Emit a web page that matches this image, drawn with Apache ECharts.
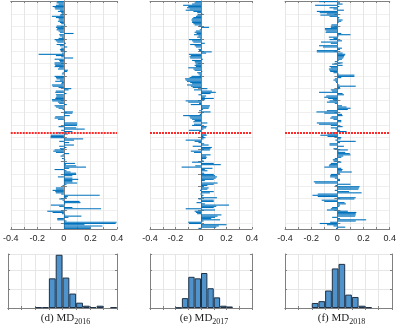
<!DOCTYPE html>
<html>
<head>
<meta charset="utf-8">
<script src="https://cdn.jsdelivr.net/npm/echarts@6/dist/echarts.min.js"></script>
<style>
  html, body { margin: 0; padding: 0; background: #fff; }
  #chart { width: 399px; height: 325px; }
</style>
</head>
<body>
<div id="chart"></div>
<script>
// per-row deviations, top row first (186 rows)
const md2016 = [
  -0.05,-0.055,-0.04,-0.06,-0.085,-0.07,-0.065,-0.03,-0.045,-0.02,-0.015,
  -0.03,-0.09,-0.06,-0.04,-0.035,-0.045,-0.03,-0.02,0.01,-0.055,
  -0.06,-0.05,-0.055,-0.04,-0.03,0.073,-0.035,-0.03,-0.015,-0.04,
  -0.07,-0.06,-0.05,0.015,-0.055,-0.03,0.025,-0.02,-0.03,-0.025,
  0.01,-0.015,-0.19,-0.06,-0.02,0.07,-0.07,-0.035,-0.03,-0.07,
  -0.07,-0.065,-0.07,-0.035,-0.045,0.03,0.025,-0.01,-0.015,0.0,
  -0.07,-0.06,-0.055,-0.03,-0.065,-0.015,-0.02,-0.09,-0.085,-0.04,
  0.056,0.035,-0.06,-0.065,0.02,-0.06,-0.055,-0.06,-0.065,-0.09,
  -0.088,-0.045,-0.035,0.022,-0.07,-0.06,-0.04,-0.01,0.005,0.068,
  0.064,0.005,0.044,-0.065,-0.07,-0.045,0.006,0.003,0.1,0.1,
  0.098,-0.04,0.093,0.157,-0.02,0.064,-0.06,0.03,-0.098,-0.1,
  -0.1,0.145,0.076,-0.035,0.04,0.005,0.076,-0.035,0.02,-0.03,
  -0.07,-0.08,-0.06,0.04,-0.01,-0.025,0.005,-0.015,0.01,0.005,
  0.005,0.083,0.015,0.093,0.167,0.04,-0.07,0.02,0.05,0.092,
  0.093,0.064,-0.045,0.064,0.108,0.064,0.064,0.1,0.02,-0.01,
  0.002,-0.06,-0.06,-0.085,-0.065,-0.06,-0.02,0.27,0.03,0.02,
  -0.035,-0.01,0.118,0.125,0.01,-0.098,-0.035,0.064,0.28,0.005,
  -0.125,-0.085,-0.015,0.01,0.132,0.034,-0.05,-0.05,0.02,0.397,
  0.39,0.155,0.29,0.2,0.2
];
const md2017 = [
  -0.04,-0.05,-0.07,-0.14,-0.1,-0.11,-0.09,-0.12,-0.06,-0.03,0.01,
  -0.03,-0.04,-0.06,-0.07,-0.075,-0.07,-0.07,-0.06,-0.05,-0.015,
  0.063,0.005,-0.01,-0.04,-0.05,-0.035,-0.055,-0.02,-0.03,-0.005,
  -0.095,-0.07,-0.06,0.03,-0.085,-0.05,-0.04,0.005,-0.02,-0.015,
  0.084,0.04,-0.095,-0.08,-0.09,-0.085,0.015,-0.07,-0.05,-0.045,
  -0.04,-0.05,-0.04,-0.1,-0.06,-0.05,0.01,-0.03,-0.02,-0.01,
  -0.075,-0.09,-0.126,-0.12,-0.11,-0.085,-0.07,-0.11,-0.08,-0.065,
  0.05,-0.055,0.085,0.116,0.075,-0.02,0.04,0.03,0.1,0.03,
  -0.12,-0.1,-0.015,-0.08,0.07,0.065,0.06,0.015,-0.015,0.075,
  0.01,-0.01,-0.14,-0.09,-0.085,-0.07,-0.05,-0.06,0.05,-0.055,
  -0.07,0.045,0.04,0.02,-0.095,-0.015,0.025,0.04,0.045,0.02,
  0.035,0.02,-0.12,-0.05,-0.02,0.025,0.06,-0.065,0.085,0.075,
  0.07,-0.08,-0.055,0.005,0.075,0.04,0.045,0.04,0.01,0.02,
  -0.07,0.1,0.155,-0.045,-0.152,0.09,0.03,0.05,0.01,0.025,
  0.1,0.11,0.125,0.115,0.1,0.03,0.008,0.13,0.1,0.05,
  0.02,0.06,0.05,-0.008,0.1,0.07,-0.005,0.02,0.01,0.125,
  -0.02,0.1,0.1,-0.035,0.03,0.22,0.12,0.1,-0.12,0.11,
  -0.05,-0.04,-0.03,0.16,0.13,0.11,0.08,0.15,0.02,-0.1,
  -0.095,0.2,0.14,0.12,-0.02
];
const md2018 = [
  -0.14,0.02,0.04,-0.17,0.015,-0.06,-0.03,0.05,-0.157,-0.135,-0.08,
  -0.13,-0.06,0.015,0.01,0.04,0.03,0.01,0.005,-0.045,-0.05,
  -0.05,-0.095,-0.095,-0.085,-0.09,0.03,0.1,0.01,-0.065,-0.03,
  -0.06,0.035,-0.125,-0.05,0.005,-0.14,-0.11,0.035,0.02,-0.157,
  -0.157,0.04,0.06,0.055,0.05,0.045,0.035,0.01,-0.02,0.04,
  -0.04,0.04,-0.06,-0.05,-0.065,-0.06,-0.055,-0.03,0.01,0.13,
  0.13,0.03,-0.02,-0.03,-0.015,-0.01,0.005,0.015,0.14,0.02,
  0.015,-0.05,-0.04,-0.14,0.04,0.05,-0.085,-0.1,-0.07,-0.035,
  -0.06,-0.08,-0.02,0.005,0.035,0.07,0.1,0.08,-0.08,-0.16,
  -0.1,0.035,0.04,-0.045,-0.055,-0.03,0.03,0.03,-0.157,-0.14,
  -0.05,0.04,-0.05,-0.015,0.02,0.07,-0.04,-0.075,-0.13,-0.075,
  0.03,0.025,-0.015,0.14,0.02,-0.06,-0.06,0.05,0.005,-0.03,
  0.08,0.01,0.06,0.095,0.1,0.045,0.03,-0.02,-0.035,-0.03,
  0.03,-0.05,-0.06,-0.065,-0.1,0.03,0.04,0.035,0.11,0.02,
  -0.05,-0.055,-0.055,-0.02,0.02,0.02,-0.18,-0.17,0.1,-0.015,
  0.17,0.165,0.16,-0.02,0.09,0.185,-0.15,-0.19,-0.15,0.14,
  0.13,-0.12,-0.1,0.055,0.065,0.02,0.015,-0.04,-0.05,-0.08,
  0.08,0.145,0.14,0.14,0.135,-0.04,0.02,0.22,0.14,-0.055,
  -0.135,-0.08,-0.03,0.06,-0.01
];

// histogram bins of width 0.05 from -0.4 to 0.4
const binStarts = [-0.4,-0.35,-0.3,-0.25,-0.2,-0.15,-0.1,-0.05,0,0.05,0.1,0.15,0.2,0.25,0.3,0.35];
const hist2016 = [0,0,0,0,1,1,39,70,40,19,7,3,1.3,3,0,1];
const hist2017 = [0,0,0,0,0.5,13,41,39,46,26,14,3,2,0,0,0];
const hist2018 = [0,0,0,0,6.6,9,23,52,58,17.6,14.5,3,1,0,0,0];

const xLabels = [-0.4,-0.2,0,0.2,0.4];
const captions = [['(d) MD','2016'],['(e) MD','2017'],['(f) MD','2018']];
const redRow = 107;

const rowIds = md2016.map((v, i) => i + 1);

const chart = echarts.init(document.getElementById('chart'));

const lineCol = '#808080';
const gridCol = '#e6e6e6';
const panels = [
  {left: 8, width: 109, data: md2016, hist: hist2016},
  {left: 150, width: 102, data: md2017, hist: hist2017},
  {left: 285, width: 107, data: md2018, hist: hist2018}
];

const grid = [], xAxis = [], yAxis = [], series = [], title = [];

function rowTick(i){ return i % 10 === 1 && i > 1; }

panels.forEach((p, k) => {
  const g = grid.length;
  // bar panel
  grid.push({left: p.left, width: p.width, top: 1, height: 228, containLabel: false});
  // histogram panel
  grid.push({left: p.left, width: p.width, top: 254, height: 54, containLabel: false});

  const ax = xAxis.length;
  xAxis.push({
    type: 'value', gridIndex: g, min: -0.4, max: 0.4, interval: 0.1, position: 'bottom',
    axisLine: {show: true, lineStyle: {color: lineCol}},
    axisTick: {show: true, inside: true, length: 2, lineStyle: {color: lineCol}},
    splitLine: {show: true, lineStyle: {color: gridCol}},
    axisLabel: {
      show: true, margin: 5, fontSize: 9, color: '#262626', fontFamily: 'Liberation Sans',
      showMinLabel: true, showMaxLabel: true,
      formatter: v => {
        const r = Math.round(v * 10) / 10;
        if (!xLabels.some(t => Math.abs(t - r) < 1e-6)) return '';
        return r === 0 ? '0' : String(r);
      }
    }
  });
  xAxis.push({
    type: 'value', gridIndex: g, min: -0.4, max: 0.4, interval: 0.1, position: 'top',
    axisLine: {show: true, lineStyle: {color: lineCol}},
    axisTick: {show: true, inside: true, length: 2, lineStyle: {color: lineCol}},
    splitLine: {show: false}, axisLabel: {show: false}
  });
  xAxis.push({
    type: 'category', gridIndex: g + 1, data: binStarts, boundaryGap: true, position: 'bottom',
    axisLine: {show: true, lineStyle: {color: lineCol}},
    axisTick: {show: true, inside: true, length: 2, interval: i => i % 2 === 0, lineStyle: {color: lineCol}},
    splitLine: {show: true, interval: i => i % 2 === 0, lineStyle: {color: gridCol}},
    axisLabel: {show: false}
  });
  xAxis.push({
    type: 'category', gridIndex: g + 1, data: binStarts, boundaryGap: true, position: 'top',
    axisLine: {show: true, lineStyle: {color: lineCol}},
    axisTick: {show: true, inside: true, length: 2, interval: i => i % 2 === 0, lineStyle: {color: lineCol}},
    splitLine: {show: false}, axisLabel: {show: false}
  });

  const ay = yAxis.length;
  yAxis.push({
    type: 'category', gridIndex: g, data: rowIds, inverse: true, boundaryGap: true, position: 'left',
    axisLine: {show: true, lineStyle: {color: lineCol}},
    axisTick: {show: true, inside: true, length: 3, interval: rowTick, lineStyle: {color: lineCol}},
    splitLine: {show: true, interval: rowTick, lineStyle: {color: '#efefef'}},
    axisLabel: {show: false}
  });
  yAxis.push({
    type: 'category', gridIndex: g, data: rowIds, inverse: true, boundaryGap: true, position: 'right',
    axisLine: {show: true, lineStyle: {color: lineCol}},
    axisTick: {show: true, inside: true, length: 3, interval: rowTick, lineStyle: {color: lineCol}},
    splitLine: {show: false}, axisLabel: {show: false}
  });
  yAxis.push({
    type: 'value', gridIndex: g + 1, min: 0, max: 71, interval: 25, position: 'left',
    axisLine: {show: true, lineStyle: {color: lineCol}},
    axisTick: {show: true, inside: true, length: 2, lineStyle: {color: lineCol}},
    splitLine: {show: true, lineStyle: {color: gridCol}},
    axisLabel: {show: false}
  });
  yAxis.push({
    type: 'value', gridIndex: g + 1, min: 0, max: 71, interval: 25, position: 'right',
    axisLine: {show: true, lineStyle: {color: lineCol}},
    axisTick: {show: true, inside: true, length: 2, lineStyle: {color: lineCol}},
    splitLine: {show: false}, axisLabel: {show: false}
  });

  series.push({
    type: 'bar', xAxisIndex: ax, yAxisIndex: ay, data: p.data,
    barCategoryGap: '10%', itemStyle: {color: '#0072BD'}, silent: true,
    markLine: {
      symbol: 'none', silent: true, animation: false, label: {show: false},
      lineStyle: {color: '#ff2a2a', width: 2, type: [2, 1]},
      data: [{yAxis: redRow}]
    }
  });
  series.push({
    type: 'bar', xAxisIndex: ax + 2, yAxisIndex: ay + 2,
    data: p.hist.map(c => c > 0 ? c : null),
    barCategoryGap: '0%', silent: true,
    itemStyle: {color: '#4f93cc', borderColor: '#1f3146', borderWidth: 1}
  });

  title.push({
    text: '{a|' + captions[k][0] + '}{b|' + captions[k][1] + '}',
    left: p.left + p.width / 2 - 2, top: 308, textAlign: 'center',
    textStyle: {
      fontWeight: 'normal',
      rich: {
        a: {fontFamily: 'Liberation Serif', fontSize: 11, fontWeight: 'normal', color: '#222', lineHeight: 13, verticalAlign: 'top'},
        b: {fontFamily: 'Liberation Serif', fontSize: 8, fontWeight: 'normal', color: '#222', lineHeight: 6, verticalAlign: 'bottom'}
      }
    }
  });
});

chart.setOption({
  animation: false,
  title, grid, xAxis, yAxis, series
});
</script>
</body>
</html>
